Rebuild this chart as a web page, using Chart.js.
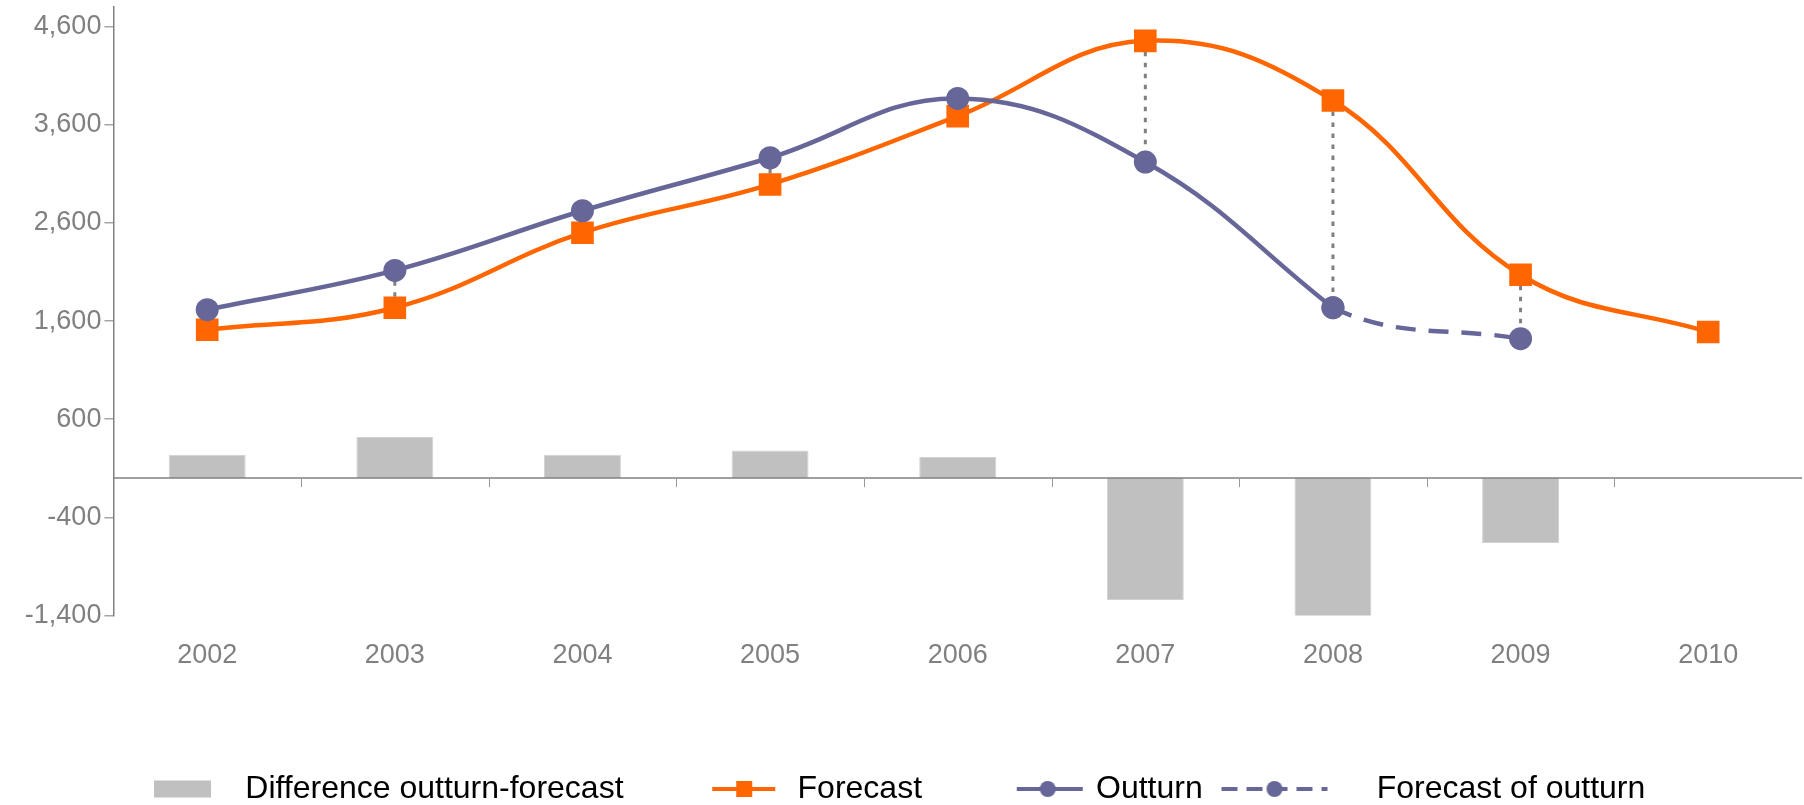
<!DOCTYPE html>
<html>
<head>
<meta charset="utf-8">
<title>Forecast and outturn</title>
<script src="https://cdn.jsdelivr.net/npm/chart.js@4/dist/chart.umd.min.js"></script>
<style>
  html, body { margin: 0; padding: 0; background: #ffffff; }
  #wrap { width: 1804px; height: 805px; }
</style>
</head>
<body>
<div id="wrap"><canvas id="chart" width="1804" height="805"></canvas></div>
<script>
// ---- data ----
const years = ['2002', '2003', '2004', '2005', '2006', '2007', '2008', '2009', '2010'];
const difference = [237, 418, 237, 281, 214, -1242, -1440, -662, null];
const forecast = [1512, 1736, 2500, 2992, 3688, 4455, 3847, 2072, 1489];
const outturn = [1716, 2116, 2724, 3264, 3868, 3220, 1736, null, null];
const forecastOfOutturn = [null, null, null, null, null, null, 1736, 1421, null];
const yTicks = [-1400, -400, 600, 1600, 2600, 3600, 4600];
const seriesNames = ['Difference outturn-forecast', 'Forecast', 'Outturn', 'Forecast of outturn'];

// The projected outturn continues the outturn path, so its curve is
// computed over the joined series and only the projected part is stroked.
const outturnPath = outturn.map((v, i) => (v != null ? v : forecastOfOutturn[i]));

// ---- styling ----
const ORANGE = '#FF6600';
const PURPLE = '#666699';
const BAR_GREY = '#C0C0C0';
const AXIS_GREY = '#808080';
const FONT = "'Liberation Sans', Arial, Helvetica, sans-serif";
const TRANSPARENT = 'rgba(0,0,0,0)';

// Legend symbols: a small canvas per series, centred on the legend box.
function legendIcon(draw) {
  const ext = 112;
  const c = document.createElement('canvas');
  c.width = ext * 2;
  c.height = 40;
  const g = c.getContext('2d');
  g.translate(ext, 20);
  draw(g);
  return c;
}
const legendIcons = [
  legendIcon(g => {
    g.fillStyle = BAR_GREY;
    g.fillRect(-39, -8.5, 57, 17);
  }),
  legendIcon(g => {
    g.strokeStyle = ORANGE; g.lineWidth = 4;
    g.beginPath(); g.moveTo(-33, 0); g.lineTo(30, 0); g.stroke();
    g.fillStyle = ORANGE; g.fillRect(-1 - 8, -8, 16, 16);
  }),
  legendIcon(g => {
    g.strokeStyle = PURPLE; g.lineWidth = 4;
    g.beginPath(); g.moveTo(-27, 0); g.lineTo(39, 0); g.stroke();
    g.fillStyle = PURPLE; g.beginPath(); g.arc(4, 0, 8, 0, Math.PI * 2); g.fill();
  }),
  legendIcon(g => {
    g.strokeStyle = PURPLE; g.lineWidth = 4; g.setLineDash([16, 9]);
    g.beginPath(); g.moveTo(-103, 0); g.lineTo(3, 0); g.stroke();
    g.setLineDash([]);
    g.fillStyle = PURPLE; g.beginPath(); g.arc(-50, 0, 8, 0, Math.PI * 2); g.fill();
  })
];

// Dotted drop lines joining forecast and outturn at each year.
const dropLines = {
  id: 'dropLines',
  beforeDatasetsDraw(chart) {
    const { ctx, scales: { x, y } } = chart;
    ctx.save();
    ctx.strokeStyle = AXIS_GREY;
    ctx.lineWidth = 3;
    ctx.setLineDash([4.5, 6.5]);
    years.forEach((_, i) => {
      const hi = forecast[i];
      const lo = outturnPath[i];
      if (hi == null || lo == null) return;
      const px = x.getPixelForValue(i);
      ctx.beginPath();
      ctx.moveTo(px, y.getPixelForValue(hi));
      ctx.lineTo(px, y.getPixelForValue(lo));
      ctx.stroke();
    });
    ctx.restore();
  }
};

// Horizontal axis line at zero with tick marks between the years.
const zeroAxis = {
  id: 'zeroAxis',
  afterDatasetsDraw(chart) {
    const { ctx, chartArea, scales: { x, y } } = chart;
    const y0 = y.getPixelForValue(0);
    ctx.save();
    ctx.strokeStyle = AXIS_GREY;
    ctx.lineWidth = 1.5;
    ctx.beginPath();
    ctx.moveTo(chartArea.left, y0);
    ctx.lineTo(chartArea.right, y0);
    ctx.stroke();
    ctx.lineWidth = 1;
    ctx.strokeStyle = '#999999';
    for (let i = 1; i < years.length; i++) {
      const bx = Math.round((x.getPixelForValue(i - 1) + x.getPixelForValue(i)) / 2) + 0.5;
      ctx.beginPath();
      ctx.moveTo(bx, y0);
      ctx.lineTo(bx, y0 + 9);
      ctx.stroke();
    }
    ctx.restore();
  }
};

new Chart(document.getElementById('chart').getContext('2d'), {
  type: 'bar',
  data: {
    labels: years,
    datasets: [
      {
        type: 'bar',
        label: seriesNames[0],
        data: difference,
        backgroundColor: BAR_GREY,
        borderColor: '#d2d2d2',
        borderWidth: 1,
        barPercentage: 0.41,
        categoryPercentage: 1,
        order: 10
      },
      {
        type: 'line',
        label: seriesNames[1],
        data: forecast,
        borderColor: ORANGE,
        backgroundColor: ORANGE,
        borderWidth: 4.5,
        tension: 0.4,
        pointStyle: 'rect',
        pointRadius: 16,
        pointBorderWidth: 0,
        pointBackgroundColor: ORANGE,
        order: 5
      },
      {
        type: 'line',
        label: seriesNames[2],
        data: outturn,
        borderColor: PURPLE,
        backgroundColor: PURPLE,
        borderWidth: 4.5,
        tension: 0.4,
        pointStyle: 'circle',
        pointRadius: 11.5,
        pointBorderWidth: 0,
        pointBackgroundColor: PURPLE,
        order: 1
      },
      {
        type: 'line',
        label: seriesNames[3],
        data: outturnPath,
        borderColor: PURPLE,
        backgroundColor: PURPLE,
        borderWidth: 4.5,
        tension: 0.4,
        segment: {
          borderColor: c => (forecastOfOutturn[c.p0DataIndex] != null && forecastOfOutturn[c.p1DataIndex] != null ? PURPLE : TRANSPARENT),
          borderDash: () => [20, 13]
        },
        pointStyle: 'circle',
        pointRadius: c => (forecastOfOutturn[c.dataIndex] != null ? 11.5 : 0),
        pointBorderWidth: 0,
        pointBackgroundColor: PURPLE,
        order: 3
      }
    ]
  },
  options: {
    responsive: false,
    animation: false,
    devicePixelRatio: 1,
    events: [],
    layout: { autoPadding: false, padding: { left: 0, right: 2, top: 7, bottom: 0 } },
    scales: {
      x: {
        offset: true,
        grid: { display: false, drawTicks: false },
        border: { display: false },
        ticks: {
          color: AXIS_GREY,
          font: { family: FONT, size: 27 },
          padding: 24,
          maxRotation: 0,
          autoSkip: false
        },
        afterFit(scale) {
          scale.height = 72.1;
          scale.paddingLeft = 0;
          scale.paddingRight = 0;
        }
      },
      y: {
        min: -1400,
        max: 4800,
        afterBuildTicks(scale) {
          scale.ticks = yTicks.map(v => ({ value: v }));
        },
        afterFit(scale) {
          scale.width = 113.4;
          scale.paddingTop = 0;
          scale.paddingBottom = 0;
        },
        grid: {
          drawOnChartArea: false,
          drawTicks: true,
          tickLength: 9,
          color: '#a6a6a6',
          lineWidth: 1.5
        },
        border: { display: true, color: AXIS_GREY, width: 1.5 },
        ticks: {
          color: AXIS_GREY,
          font: { family: FONT, size: 27 },
          padding: 3,
          callback: v => Number(v).toLocaleString('en-US')
        }
      }
    },
    plugins: {
      tooltip: { enabled: false },
      legend: {
        position: 'bottom',
        maxHeight: 117.4,
        labels: {
          usePointStyle: true,
          pointStyleWidth: 72.6,
          padding: 85.4,
          color: '#000000',
          font: { family: FONT, size: 32 },
          generateLabels: () => seriesNames.map((name, i) => ({
            text: name,
            pointStyle: legendIcons[i],
            datasetIndex: i,
            hidden: false,
            lineWidth: 0,
            fillStyle: TRANSPARENT,
            strokeStyle: TRANSPARENT,
            fontColor: '#000000'
          }))
        }
      }
    }
  },
  plugins: [dropLines, zeroAxis]
});
</script>
</body>
</html>
